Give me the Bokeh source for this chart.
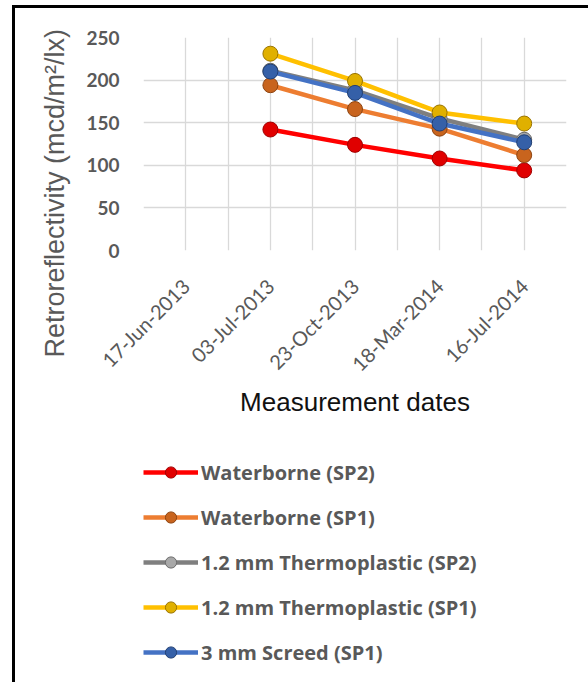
import numpy as np
from math import pi
from bokeh.plotting import figure
from bokeh.layouts import column
from bokeh.models import FixedTicker, Legend, LegendItem, Title
from bokeh.embed import file_html
from bokeh.resources import INLINE

# ---- data ----
dates = ["17-Jun-2013", "03-Jul-2013", "23-Oct-2013", "18-Mar-2014", "16-Jul-2014"]
waterborne_sp2 = [np.nan, 142, 124, 108, 94]
waterborne_sp1 = [np.nan, 194, 166, 143, 112]
thermo12_sp2 = [np.nan, 211, 188, 155, 130]
thermo12_sp1 = [np.nan, 231, 199, 162, 149]
screed3_sp1 = [np.nan, 210, 185, 149, 127]
series_names = ["Waterborne (SP2)", "Waterborne (SP1)", "1.2 mm Thermoplastic (SP2)",
                "1.2 mm Thermoplastic (SP1)", "3 mm Screed (SP1)"]
series_values = [waterborne_sp2, waterborne_sp1, thermo12_sp2, thermo12_sp1, screed3_sp1]
line_colors = ["#FF0000", "#ED7D31", "#7F7F7F", "#FFC000", "#4472C4"]
marker_fill = ["#E00000", "#C8641E", "#A8A8A8", "#E0B000", "#3560A8"]
marker_line = ["#A00000", "#8E4410", "#6A6A6A", "#9A7400", "#213F73"]
y_ticks = [0, 50, 100, 150, 200, 250]

xpos = list(range(len(dates)))

# ---------------- main chart ----------------
p = figure(width=588, height=450, x_range=(-0.5, len(dates) - 0.5), y_range=(0, 250),
           output_backend="svg", toolbar_location=None,
           min_border_left=143, min_border_right=22, min_border_top=37, min_border_bottom=200)
p.outline_line_color = None
p.background_fill_color = "white"
p.border_fill_color = None

p.xaxis.ticker = FixedTicker(ticks=xpos)
p.xaxis.major_label_overrides = {i: d for i, d in zip(xpos, dates)}
p.xaxis.major_label_orientation = pi / 4
p.xaxis.major_label_text_font = "Lato"
p.xaxis.major_label_text_font_size = "20px"
p.xaxis.major_label_text_color = "#595959"
p.xaxis.major_label_standoff = 32
p.xaxis.axis_label = "Measurement dates"
p.xaxis.axis_label_text_font = "Liberation Sans"
p.xaxis.axis_label_text_font_size = "26px"
p.xaxis.axis_label_text_font_style = "normal"
p.xaxis.axis_label_text_color = "#111111"
p.xaxis.axis_label_standoff = 0

p.yaxis.ticker = FixedTicker(ticks=y_ticks)
p.yaxis.major_label_text_font = "Lato"
p.yaxis.major_label_text_font_style = "bold"
p.yaxis.major_label_text_font_size = "19px"
p.yaxis.major_label_text_color = "#595959"
p.yaxis.major_label_standoff = 24

for ax in (p.xaxis, p.yaxis):
    ax.axis_line_color = None
    ax.major_tick_line_color = None
    ax.minor_tick_line_color = None
    ax.major_tick_out = 0
    ax.major_tick_in = 0

ytitle = Title(text="Retroreflectivity (mcd/m\u00b2/lx)", align="left", offset=-107,
               text_font="Liberation Sans", text_font_size="27px", text_font_style="normal",
               text_color="#595959", standoff=28)
p.add_layout(ytitle, "left")

p.xgrid.ticker = FixedTicker(ticks=[i / 2 for i in range(-1, 2 * len(dates))])
p.ygrid.ticker = FixedTicker(ticks=y_ticks)
p.xgrid.grid_line_color = "#D9D9D9"
p.ygrid.grid_line_color = "#D9D9D9"
p.xgrid.grid_line_width = 1.3
p.ygrid.grid_line_width = 1.3

for vals, lc, mf, ml in zip(series_values, line_colors, marker_fill, marker_line):
    p.line(xpos, vals, line_color=lc, line_width=4.5)
    p.scatter(xpos, vals, size=15, fill_color=mf, line_color=ml, line_width=1)

# ---------------- legend panel ----------------
p2 = figure(width=588, height=232, x_range=(-0.5, len(dates) - 0.5), y_range=(1000, 1001),
            output_backend="svg", toolbar_location=None, min_border=0,
            x_axis_location=None, y_axis_location=None)
p2.outline_line_color = None
p2.background_fill_color = None
p2.border_fill_color = None
p2.grid.visible = False

items = []
for name, vals, lc, mf, ml in zip(series_names, series_values, line_colors, marker_fill, marker_line):
    r1 = p2.line(xpos, vals, line_color=lc, line_width=4.5)
    r2 = p2.scatter(xpos, vals, size=15, fill_color=mf, line_color=ml, line_width=1)
    items.append(LegendItem(label=name, renderers=[r1, r2]))

legend = Legend(items=items, location=(0, 16))
legend.glyph_width = 55
legend.glyph_height = 28
legend.label_height = 28
legend.spacing = 17
legend.label_standoff = 3
legend.padding = 0
legend.margin = 0
legend.border_line_color = None
legend.background_fill_alpha = 0
legend.label_text_font = "Open Sans"
legend.label_text_font_style = "bold"
legend.label_text_font_size = "20px"
legend.label_text_color = "#595959"
p2.add_layout(legend, "center")

layout = column(p, p2, spacing=0)
layout.styles = {
    "background": "linear-gradient(#000, #000) 12px 5px / 3px 677px no-repeat, "
                  "linear-gradient(#000, #000) 12px 5px / 576px 3px no-repeat, #fff",
}

open("out.html", "w").write(file_html(layout, INLINE))
